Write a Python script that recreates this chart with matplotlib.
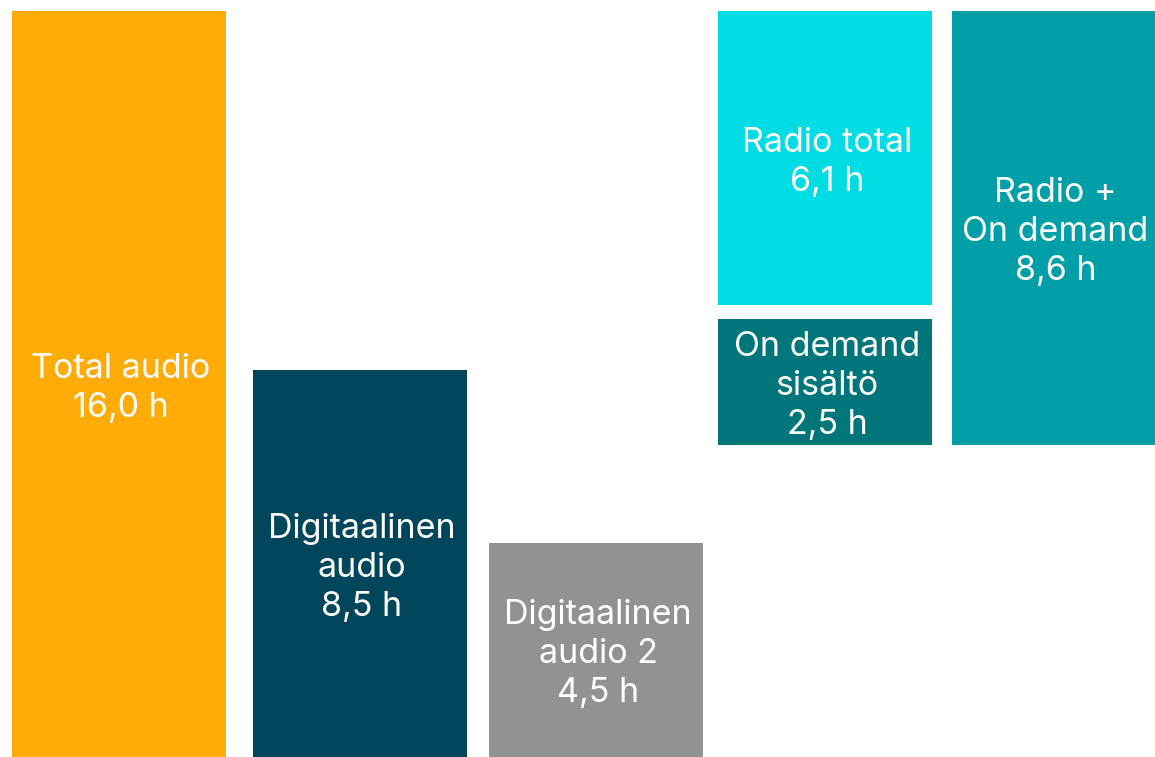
import matplotlib.pyplot as plt

# --- Données ---
labels = ["Total audio", "Digitaalinen\naudio", "Digitaalinen\naudio 2",
          "Radio total", "On demand\nsisältö", "Radio +\nOn demand"]
hours = [16.0, 8.5, 4.5, 6.1, 2.5, 8.6]
# extent of each block as drawn (hours)
bar_low = [0.0, 0.0, 0.0, 9.7, 6.7, 6.7]
bar_high = [16.0, 8.3, 4.6, 16.0, 9.4, 16.0]

# --- Mise en page ---
lefts = [12, 253, 489, 718, 718, 952]
widths = [214, 214, 214, 214, 214, 203]
colors = ["#FFAB08", "#01465B", "#929292", "#00DCE4", "#00767A", "#009FA8"]

fig = plt.figure(figsize=(11.55, 7.57), dpi=100)
ax = fig.add_axes([0, 0, 1, 746 / 757])
ax.set_xlim(0, 1155)
ax.set_ylim(0, 16)
ax.axis("off")

for lab, h, lo, hi, x, w, c in zip(labels, hours, bar_low, bar_high, lefts, widths, colors):
    ax.bar(x, hi - lo, bottom=lo, width=w, align="edge", color=c, linewidth=0)
    txt = f"{lab}\n{h:.1f} h".replace(".", ",")
    ax.text(x + w / 2 + 2, (lo + hi) / 2 - 0.1, txt, ha="center", va="center",
            color="white", fontsize=24.5, family="Inter", linespacing=1.28)

fig.savefig("out.png", dpi=100)
